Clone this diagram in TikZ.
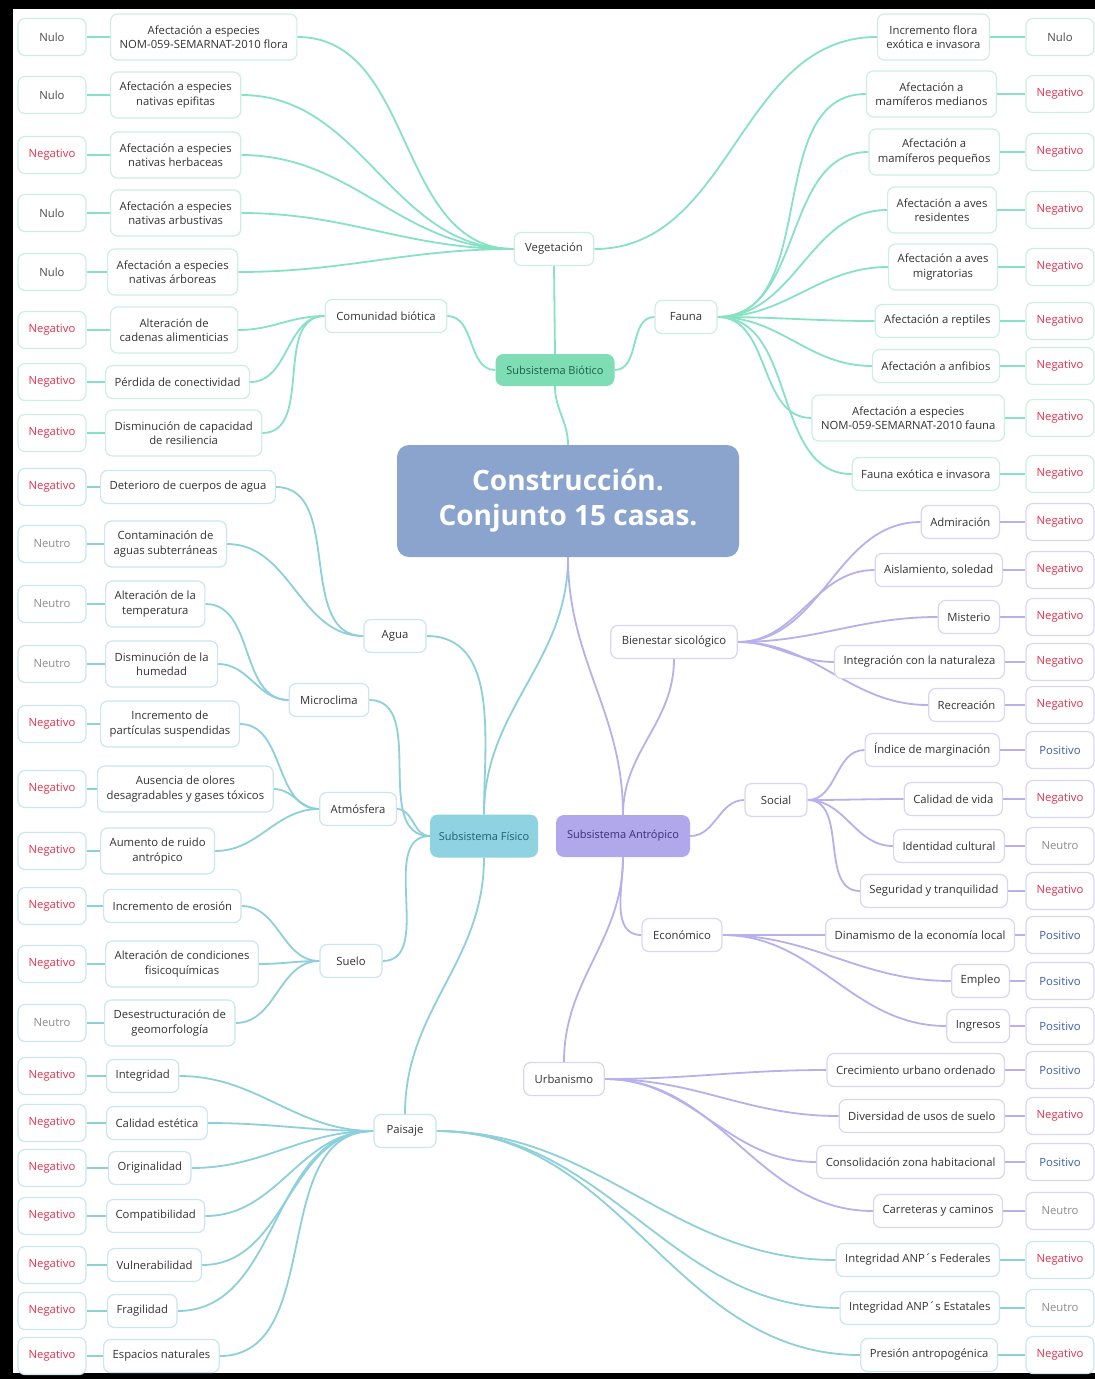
\documentclass[tikz,border=0pt]{standalone}
\usepackage{fontspec}
\setmainfont{Open Sans}
\usetikzlibrary{backgrounds}

\definecolor{gline}{HTML}{86E2C2}
\definecolor{tline}{HTML}{8DD0DA}
\definecolor{pline}{HTML}{B8B0EC}
\definecolor{gedge}{HTML}{CDEEE2}
\definecolor{tedge}{HTML}{CBE6EC}
\definecolor{pedge}{HTML}{DAD6F2}
\definecolor{negc}{HTML}{E4324E}
\definecolor{nuloc}{HTML}{4A4A4A}
\definecolor{neuc}{HTML}{8C8C8C}
\definecolor{posc}{HTML}{3F5DA8}
\definecolor{txt}{HTML}{333333}
\definecolor{rootc}{HTML}{8AA4CE}
\definecolor{biof}{HTML}{7FDDB6}
\definecolor{biot}{HTML}{1C5E45}
\definecolor{fisf}{HTML}{8FD3E2}
\definecolor{fist}{HTML}{1E5E72}
\definecolor{antf}{HTML}{B1A8EC}
\definecolor{antt}{HTML}{3B2E7A}

% leaf on the left side with its rating box at the margin
\newcommand{\LeafL}[7]{%
  \node[#2, anchor=west] (#1) at (#3,#4) {#5};
  \node[#2, valbox, #6] (#1-v) at (52,#4) {#7};}
% leaf on the right side with its rating box at the margin
\newcommand{\LeafR}[7]{%
  \node[#2, anchor=east] (#1) at (#3,#4) {#5};
  \node[#2, valbox, #6] (#1-v) at (1060,#4) {#7};}

\begin{document}
\begin{tikzpicture}[x=1pt,y=-1pt,
  box/.style={rounded corners=7pt, fill=white, line width=1.2pt, align=center,
    inner xsep=9pt, inner ysep=3pt, minimum height=33pt, text=txt,
    font=\fontsize{11.3}{14.5}\selectfont},
  gbox/.style={box, draw=gedge},
  tbox/.style={box, draw=tedge},
  pbox/.style={box, draw=pedge},
  two/.style={minimum height=46pt},
  mid/.style={minimum width=62pt, inner xsep=11pt},
  valbox/.style={minimum width=68pt, minimum height=37pt, inner xsep=4pt},
  rneg/.style={text=negc}, rnul/.style={text=nuloc},
  rneu/.style={text=neuc}, rpos/.style={text=posc},
  gl/.style={draw=gline, line width=1.8pt},
  tl/.style={draw=tline, line width=1.8pt},
  pl/.style={draw=pline, line width=1.8pt},
  sub/.style={rounded corners=8pt, align=center, inner xsep=6pt,
    font=\fontsize{11}{13}\selectfont},
]
\useasboundingbox (0,0) rectangle (1095,1379);
\begin{scope}[on background layer]
  \fill[black] (0,0) rectangle (1095,1379);
  \fill[white] (13,9) rectangle (1095,1373);
\end{scope}

% ---------- centre ----------
\node[rounded corners=12pt, fill=rootc, text=white, align=center,
  minimum width=342pt, minimum height=112pt,
  font=\fontsize{28}{35}\selectfont\bfseries] (root) at (568,501)
  {Construcción.\\Conjunto 15 casas.};

% ---------- biotic subsystem ----------
\node[sub, fill=biof, text=biot, minimum width=119pt, minimum height=32pt] (bio) at (555,370) {Subsistema Biótico};
\node[gbox, mid] (veg) at (554,249) {Vegetación};
\node[gbox, mid] (fau) at (686,317) {Fauna};
\node[gbox, mid] (com) at (386,316) {Comunidad biótica};

\LeafL{v1}{gbox,two}{110}{37}{Afectación a especies\\NOM-059-SEMARNAT-2010 flora}{rnul}{Nulo}
\LeafL{v2}{gbox,two}{110}{95}{Afectación a especies\\nativas epifitas}{rnul}{Nulo}
\LeafL{v3}{gbox,two}{110}{155}{Afectación a especies\\nativas herbaceas}{rneg}{Negativo}
\LeafL{v4}{gbox,two}{110}{213}{Afectación a especies\\nativas arbustivas}{rnul}{Nulo}
\LeafL{v5}{gbox,two}{107}{272}{Afectación a especies\\nativas árboreas}{rnul}{Nulo}
\LeafR{v6}{gbox,two}{990}{37}{Incremento flora\\exótica e invasora}{rnul}{Nulo}

\LeafR{f1}{gbox,two}{997}{94}{Afectación a\\mamíferos medianos}{rneg}{Negativo}
\LeafR{f2}{gbox,two}{1000}{152}{Afectación a\\mamíferos pequeños}{rneg}{Negativo}
\LeafR{f3}{gbox,two}{997}{210}{Afectación a aves\\residentes}{rneg}{Negativo}
\LeafR{f4}{gbox,two}{998}{267}{Afectación a aves\\migratorias}{rneg}{Negativo}
\LeafR{f5}{gbox}{1000}{321}{Afectación a reptiles}{rneg}{Negativo}
\LeafR{f6}{gbox}{1000}{366}{Afectación a anfibios}{rneg}{Negativo}
\LeafR{f7}{gbox,two}{1005}{418}{Afectación a especies\\NOM-059-SEMARNAT-2010 fauna}{rneg}{Negativo}
\LeafR{f8}{gbox}{1000}{474}{Fauna exótica e invasora}{rneg}{Negativo}

\LeafL{c1}{gbox,two}{110}{330}{Alteración de\\cadenas alimenticias}{rneg}{Negativo}
\LeafL{c2}{gbox}{105}{382}{Pérdida de conectividad}{rneg}{Negativo}
\LeafL{c3}{gbox,two}{105}{433}{Disminución de capacidad\\de resiliencia}{rneg}{Negativo}

% ---------- physical subsystem ----------
\node[sub, fill=fisf, text=fist, minimum width=108pt, minimum height=43pt] (fis) at (484,836) {Subsistema Físico};
\node[tbox, mid] (agu) at (395,636) {Agua};
\node[tbox, mid] (mic) at (329,700) {Microclima};
\node[tbox, mid] (atm) at (358,809) {Atmósfera};
\node[tbox, mid] (sue) at (351,961) {Suelo};
\node[tbox, mid] (pai) at (405,1131) {Paisaje};

\LeafL{a1}{tbox}{100}{487}{Deterioro de cuerpos de agua}{rneg}{Negativo}
\LeafL{a2}{tbox,two}{104}{544}{Contaminación de\\aguas subterráneas}{rneu}{Neutro}
\LeafL{m1}{tbox,two}{105}{604}{Alteración de la\\temperatura}{rneu}{Neutro}
\LeafL{m2}{tbox,two}{105}{664}{Disminución de la\\humedad}{rneu}{Neutro}
\LeafL{t1}{tbox,two}{100}{724}{Incremento de\\partículas suspendidas}{rneg}{Negativo}
\LeafL{t2}{tbox,two}{97}{789}{Ausencia de olores\\desagradables y gases tóxicos}{rneg}{Negativo}
\LeafL{t3}{tbox,two}{100}{851}{Aumento de ruido\\antrópico}{rneg}{Negativo}
\LeafL{s1}{tbox}{103}{906}{Incremento de erosión}{rneg}{Negativo}
\LeafL{s2}{tbox,two}{105}{964}{Alteración de condiciones\\fisicoquímicas}{rneg}{Negativo}
\LeafL{s3}{tbox,two}{104}{1023}{Desestructuración de\\geomorfología}{rneu}{Neutro}
\LeafL{p1}{tbox}{106}{1076}{Integridad}{rneg}{Negativo}
\LeafL{p2}{tbox}{106}{1123}{Calidad estética}{rneg}{Negativo}
\LeafL{p3}{tbox}{108}{1168}{Originalidad}{rneg}{Negativo}
\LeafL{p4}{tbox}{106}{1216}{Compatibilidad}{rneg}{Negativo}
\LeafL{p5}{tbox}{107}{1265}{Vulnerabilidad}{rneg}{Negativo}
\LeafL{p6}{tbox}{107}{1311}{Fragilidad}{rneg}{Negativo}
\LeafL{p7}{tbox}{103}{1356}{Espacios naturales}{rneg}{Negativo}
\LeafR{p8}{tbox}{1000}{1260}{Integridad ANP´s Federales}{rneg}{Negativo}
\LeafR{p9}{tbox}{1000}{1308}{Integridad ANP´s Estatales}{rneu}{Neutro}
\LeafR{p10}{tbox}{998}{1355}{Presión antropogénica}{rneg}{Negativo}

% ---------- anthropic subsystem ----------
\node[sub, fill=antf, text=antt, minimum width=134pt, minimum height=42pt] (ant) at (623,836) {Subsistema Antrópico};
\node[pbox, mid] (bie) at (674,642) {Bienestar sicológico};
\node[pbox, mid] (soc) at (776,800) {Social};
\node[pbox, mid] (eco) at (682,935) {Económico};
\node[pbox, mid] (urb) at (564,1079) {Urbanismo};

\LeafR{b1}{pbox}{1000}{522}{Admiración}{rneg}{Negativo}
\LeafR{b2}{pbox}{1003}{570}{Aislamiento, soledad}{rneg}{Negativo}
\LeafR{b3}{pbox}{1000}{617}{Misterio}{rneg}{Negativo}
\LeafR{b4}{pbox}{1005}{662}{Integración con la naturaleza}{rneg}{Negativo}
\LeafR{b5}{pbox}{1005}{705}{Recreación}{rneg}{Negativo}
\LeafR{o1}{pbox}{1000}{750}{Índice de marginación}{rpos}{Positivo}
\LeafR{o2}{pbox}{1003}{799}{Calidad de vida}{rneg}{Negativo}
\LeafR{o3}{pbox}{1005}{846}{Identidad cultural}{rneu}{Neutro}
\LeafR{o4}{pbox}{1008}{891}{Seguridad y tranquilidad}{rneg}{Negativo}
\LeafR{e1}{pbox}{1015}{935}{Dinamismo de la economía local}{rpos}{Positivo}
\LeafR{e2}{pbox}{1010}{981}{Empleo}{rpos}{Positivo}
\LeafR{e3}{pbox}{1010}{1026}{Ingresos}{rpos}{Positivo}
\LeafR{u1}{pbox}{1005}{1070}{Crecimiento urbano ordenado}{rpos}{Positivo}
\LeafR{u2}{pbox}{1005}{1116}{Diversidad de usos de suelo}{rneg}{Negativo}
\LeafR{u3}{pbox}{1005}{1162}{Consolidación zona habitacional}{rpos}{Positivo}
\LeafR{u4}{pbox}{1003}{1211}{Carreteras y caminos}{rneu}{Neutro}

% ---------- connectors ----------
\begin{scope}[on background layer]
  % biotic
  \draw[gl] (root.north) to[out=90,in=-90] (bio.south);
  \draw[gl] (bio.north) -- (veg.south);
  \draw[gl] (bio.west) to[out=180,in=0] (com.east);
  \draw[gl] (bio.east) to[out=0,in=180] (fau.west);
  \foreach \n in {v1,v2,v3,v4,v5} \draw[gl] (veg.west) to[out=180,in=0] (\n.east);
  \draw[gl] (veg.east) to[out=0,in=180] (v6.west);
  \foreach \n in {f1,f2,f3,f4,f5,f6,f7,f8} \draw[gl] (fau.east) to[out=0,in=180] (\n.west);
  \foreach \n in {c1,c2,c3} \draw[gl] (com.west) to[out=180,in=0] (\n.east);
  \foreach \n in {v1,v2,v3,v4,v5,c1,c2,c3} \draw[gl] (\n-v.east) -- (\n.west);
  \foreach \n in {v6,f1,f2,f3,f4,f5,f6,f7,f8} \draw[gl] (\n.east) -- (\n-v.west);
  % physical
  \draw[tl] (root.south) to[out=-90,in=90] (fis.north);
  \draw[tl] (agu.east) to[out=0,in=90] (fis.north);
  \draw[tl] (mic.east) to[out=0,in=180] (fis.west);
  \draw[tl] (atm.east) to[out=0,in=180] (fis.west);
  \draw[tl] (sue.east) to[out=0,in=180] (fis.west);
  \draw[tl] (fis.south) to[out=-90,in=90] (pai.north);
  \foreach \n in {a1,a2} \draw[tl] (agu.west) to[out=180,in=0] (\n.east);
  \foreach \n in {m1,m2} \draw[tl] (mic.west) to[out=180,in=0] (\n.east);
  \foreach \n in {t1,t2,t3} \draw[tl] (atm.west) to[out=180,in=0] (\n.east);
  \foreach \n in {s1,s2,s3} \draw[tl] (sue.west) to[out=180,in=0] (\n.east);
  \foreach \n in {p1,p2,p3,p4,p5,p6,p7} \draw[tl] (pai.west) to[out=180,in=0] (\n.east);
  \foreach \n in {p8,p9,p10} \draw[tl] (pai.east) to[out=0,in=180] (\n.west);
  \foreach \n in {a1,a2,m1,m2,t1,t2,t3,s1,s2,s3,p1,p2,p3,p4,p5,p6,p7} \draw[tl] (\n-v.east) -- (\n.west);
  \foreach \n in {p8,p9,p10} \draw[tl] (\n.east) -- (\n-v.west);
  % anthropic
  \draw[pl] (root.south) to[out=-90,in=90] (ant.north);
  \draw[pl] (bie.south) to[out=-90,in=90] (ant.north);
  \draw[pl] (ant.east) to[out=0,in=180] (soc.west);
  \draw[pl] (ant.south) to[out=-90,in=180] (eco.west);
  \draw[pl] (ant.south) to[out=-90,in=90] (urb.north);
  \foreach \n in {b1,b2,b3,b4,b5} \draw[pl] (bie.east) to[out=0,in=180] (\n.west);
  \foreach \n in {o1,o2,o3,o4} \draw[pl] (soc.east) to[out=0,in=180] (\n.west);
  \foreach \n in {e1,e2,e3} \draw[pl] (eco.east) to[out=0,in=180] (\n.west);
  \foreach \n in {u1,u2,u3,u4} \draw[pl] (urb.east) to[out=0,in=180] (\n.west);
  \foreach \n in {b1,b2,b3,b4,b5,o1,o2,o3,o4,e1,e2,e3,u1,u2,u3,u4} \draw[pl] (\n.east) -- (\n-v.west);
\end{scope}
\end{tikzpicture}
\end{document}
